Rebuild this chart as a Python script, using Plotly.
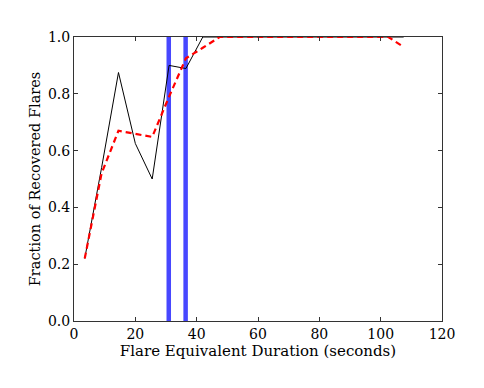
import plotly.graph_objects as go

# flare equivalent duration bins (seconds)
ed_bins = [3.5, 9.0, 14.5, 20.0, 25.5, 31.0, 36.5, 42.0, 47.5, 53.0, 58.5, 64.0,
           69.5, 75.0, 80.5, 86.0, 91.5, 97.0, 102.5, 107.5]
frac_measured = [0.22, 0.54, 0.875, 0.625, 0.50, 0.90, 0.889, 1.0, 1.0, 1.0, 1.0, 1.0,
                 1.0, 1.0, 1.0, 1.0, 1.0, 1.0, 1.0, 1.0]
frac_model = [0.22, 0.52, 0.67, 0.66, 0.648, 0.79, 0.925, 0.962, 1.0, 1.0, 1.0, 1.0,
              1.0, 1.0, 1.0, 1.0, 1.0, 1.0, 1.0, 0.965]
marker_ed = [30.9, 36.4]

serif = "DejaVu Serif"

fig = go.Figure()
for xv in marker_ed:
    fig.add_trace(go.Scatter(x=[xv, xv], y=[0, 1], mode="lines",
                             line=dict(color="rgba(0,0,255,0.72)", width=4.5),
                             showlegend=False, hoverinfo="skip"))
fig.add_trace(go.Scatter(x=ed_bins, y=frac_measured, mode="lines",
                         line=dict(color="black", width=1), showlegend=False))
fig.add_trace(go.Scatter(x=ed_bins, y=frac_model, mode="lines",
                         line=dict(color="red", width=2.2, dash="6px,4px"),
                         showlegend=False))

axis_style = dict(showgrid=False, zeroline=False, showline=True, linecolor="#333",
                  linewidth=1, mirror="ticks", ticks="inside", ticklen=4,
                  tickcolor="#333", automargin=False,
                  tickfont=dict(family=serif, size=14, color="black"))

fig.update_xaxes(range=[0, 120], dtick=20, tick0=0,
                 title=dict(text="Flare Equivalent Duration (seconds)",
                            font=dict(family=serif, size=15, color="black"), standoff=1),
                 **axis_style)
fig.update_yaxes(range=[0, 1.0], dtick=0.2, tick0=0, tickformat=".1f",
                 title=dict(text="Fraction of Recovered Flares",
                            font=dict(family=serif, size=14.5, color="black"), standoff=3),
                 **axis_style)

fig.update_layout(width=484, height=388, plot_bgcolor="white", paper_bgcolor="white",
                  margin=dict(l=66, r=50, t=29, b=75))

fig.write_html("out.html")
